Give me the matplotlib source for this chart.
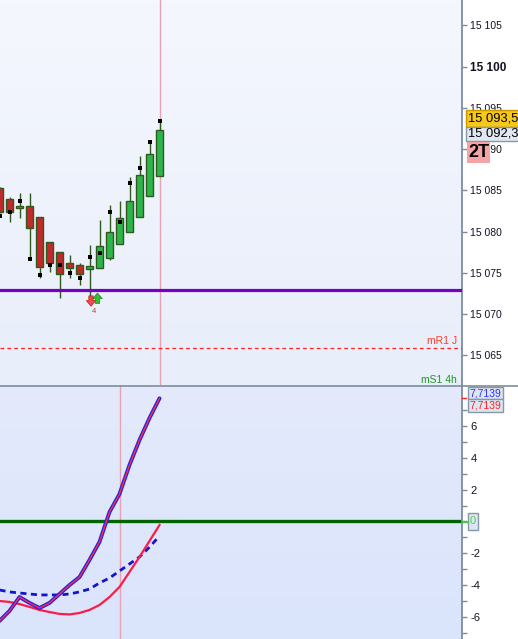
import matplotlib
matplotlib.use("Agg")
import matplotlib.pyplot as plt
from matplotlib.patches import Rectangle
from matplotlib.lines import Line2D
import numpy as np

plt.rcParams['font.family'] = ['Liberation Sans', 'DejaVu Sans']

# price bars, index 0 = left edge of the chart
opens  = [15085.30, 15083.97, 15082.99, 15083.11, 15081.78, 15078.74, 15077.52, 15076.18, 15075.94,
          15075.45, 15075.58, 15076.79, 15078.49, 15079.95, 15081.78, 15084.33, 15086.76]
closes = [15082.38, 15082.38, 15082.99, 15080.44, 15075.70, 15076.18, 15074.85, 15075.58, 15074.85,
          15075.82, 15078.25, 15079.95, 15081.66, 15083.72, 15086.88, 15089.44, 15092.30]
highs  = [15085.40, 15084.21, 15084.69, 15084.69, 15081.78, 15078.74, 15077.52, 15077.16, 15076.18,
          15078.37, 15081.41, 15083.24, 15083.72, 15086.64, 15089.19, 15090.90, 15093.50]
lows   = [15082.20, 15081.17, 15081.66, 15076.79, 15074.36, 15075.09, 15071.93, 15074.36, 15073.51,
          15071.93, 15075.58, 15076.55, 15078.49, 15079.95, 15081.78, 15084.33, 15086.76]
dots   = [15081.90, 15082.40, 15083.72, 15076.67, 15074.73, 15075.94, 15075.94, 15074.97, 15074.36,
          15076.91, 15077.40, 15082.38, 15081.17, 15085.91, 15087.73, 15090.90, 15093.45]

purple_level = 15072.91
mr1_level = 15065.88
price_ticks = [15065, 15070, 15075, 15080, 15085, 15090, 15095, 15100, 15105]
price_labels = ["15 065", "15 070", "15 075", "15 080", "15 085", "15 090", "15 095", "15 100", "15 105"]

# oscillator
osc_main = [-6.23, -5.60, -4.73, -5.10, -5.42, -5.10, -4.54, -3.98, -3.48,
            -2.41, -1.28, 0.59, 1.72, 3.54, 5.10, 6.48, 7.7139]
osc_red = [-4.98, -5.04, -5.17, -5.35, -5.54, -5.67, -5.79, -5.82, -5.73,
           -5.54, -5.23, -4.73, -4.10, -3.16, -2.22, -1.22, -0.22]
osc_dash = [-4.29, -4.41, -4.48, -4.54, -4.60, -4.60, -4.60, -4.54, -4.41,
            -4.23, -3.85, -3.54, -3.10, -2.66, -2.22, -1.60, -0.91]
osc_ticks = [-6, -4, -2, 0, 2, 4, 6]
osc_labels = ["-6", "-4", "-2", "", "2", "4", "6"]

W, H = 518, 639
fig = plt.figure(figsize=(W / 100, H / 100), dpi=100)
fig.patch.set_facecolor("white")

ax = fig.add_axes([0, 254 / H, 462 / W, 385 / H])
ax2 = fig.add_axes([0, 0, 462 / W, 254 / H])

axis_grey = "#7d8d9d"
tick_col = "#111122"


def gradient(a, top, bottom):
    c1 = np.array(matplotlib.colors.to_rgb(top))
    c2 = np.array(matplotlib.colors.to_rgb(bottom))
    t = np.linspace(0, 1, 100)[:, None]
    img = (c1 * (1 - t) + c2 * t)[:, None, :]
    a.imshow(img, extent=[0, 1, 0, 1], transform=a.transAxes, aspect="auto", zorder=0)


gradient(ax, "#f5f7fe", "#e8eefa")
gradient(ax2, "#e4eafc", "#dae4fb")

# ---- price panel ----
x = np.arange(len(opens))
ax.axvline(16, color="#e8a2b2", lw=1, zorder=1)
wick = "#2f5a1c"
ax.vlines(x, lows, highs, color=wick, lw=1, zorder=2)
for i in range(len(opens)):
    o, c = opens[i], closes[i]
    up = c >= o
    if abs(c - o) < 0.1:
        bottom, h = o - 0.08, 0.16
    else:
        bottom, h = min(o, c), abs(c - o)
    ax.bar(i, h, bottom=bottom, width=0.66,
           color="#2cb54a" if up else "#c3282b", edgecolor=wick, lw=1, zorder=3)
ax.plot(x, dots, "s", color="black", ms=3, mew=0, zorder=4)

ax.axhline(purple_level, color="#7800c4", lw=2.3, zorder=3)
ax.axhline(mr1_level, color="#ff2020", lw=0.9, ls=(0, (3, 2.5)), zorder=3)

# signal arrows under the low
arrow_style = "simple,head_width=0.75,head_length=0.45,tail_width=0.35"
ax.annotate("", xy=(9.15, 15070.95), xytext=(9.15, 15072.2),
            arrowprops=dict(arrowstyle=arrow_style, fc="#f04848", ec="#c02020", lw=0.5,
                            mutation_scale=9, shrinkA=0, shrinkB=0), zorder=5)
ax.annotate("", xy=(9.8, 15072.55), xytext=(9.8, 15071.3),
            arrowprops=dict(arrowstyle=arrow_style, fc="#34c034", ec="#208020", lw=0.5,
                            mutation_scale=9, shrinkA=0, shrinkB=0), zorder=5)
ax.text(9.45, 15070.3, "4", fontsize=5.5, color="#a05020", ha="center", va="center", zorder=5)

ax.set_xlim(0.05, 46.25)
ax.set_ylim(15061.40, 15108.07)
ax.yaxis.tick_right()
ax.set_yticks(price_ticks)
ax.set_yticklabels(price_labels)
ax.tick_params(axis="y", length=3.5, width=1, color=axis_grey, pad=2.5, labelsize=7.5, labelcolor=tick_col)
for lab in ax.get_yticklabels():
    if lab.get_text() == "15 100":
        lab.set_fontweight("bold")
        lab.set_fontsize(8.5)
ax.set_xticks([])
for s in ["left", "top", "bottom"]:
    ax.spines[s].set_visible(False)
ax.spines["right"].set_color(axis_grey)
ax.spines["right"].set_linewidth(1.3)

# ---- oscillator panel ----
ax2.axvline(12, color="#e8a2b2", lw=1, zorder=1)
ax2.axhline(0, color="#006400", lw=2.4, zorder=2)
ax2.plot(x, osc_dash, color="#1414d0", lw=2.0, ls=(0, (2.2, 1.6)), zorder=3)
ax2.plot(x, osc_red, color="#ff1a4a", lw=1.6, zorder=3)
ax2.plot(x, osc_main, color="#2424e0", lw=2.8, zorder=4, solid_capstyle="round")
ax2.plot(x, osc_main, color="#ff2a4a", lw=1.0, zorder=5, solid_capstyle="round")

ax2.set_xlim(0.05, 46.25)
ax2.set_ylim(-7.36, 8.55)
ax2.yaxis.tick_right()
ax2.set_yticks(osc_ticks)
ax2.set_yticklabels(osc_labels)
ax2.set_yticks([-7, -5, -3, -1, 1, 3, 5, 7], minor=True)
ax2.tick_params(axis="y", which="both", length=3.5, width=1, color=axis_grey, pad=2.5,
                labelsize=8, labelcolor=tick_col)
ax2.set_xticks([])
for s in ["left", "top", "bottom"]:
    ax2.spines[s].set_visible(False)
ax2.spines["right"].set_color(axis_grey)
ax2.spines["right"].set_linewidth(1.3)


# ---- overlays in pixel coordinates ----
def fx(px):
    return px / W


def fy(py):
    return 1 - py / H


def box(x0, y0, x1, y1, fc, ec=None):
    fig.add_artist(Rectangle((fx(x0), fy(y1)), (x1 - x0) / W, (y1 - y0) / H, transform=fig.transFigure,
                             fc=fc, ec=ec if ec else "none", lw=1, zorder=5))


fig.add_artist(Line2D([0, 1], [fy(385.5), fy(385.5)], color=axis_grey, lw=1.2, zorder=6))

box(466, 110, 519, 127, "#f6c81a", "#c89a00")
fig.text(fx(468), fy(118.5), "15 093,5", fontsize=9.3, color="black", va="center", ha="left", zorder=7)
box(466, 127, 519, 141, "#e0e7f2", "#8898a8")
fig.text(fx(468), fy(134), "15 092,3", fontsize=9.3, color="black", va="center", ha="left", zorder=7)
box(467, 142, 490, 163, "#f4a4a4")
fig.text(fx(478.5), fy(152.5), "2T", fontsize=13, fontweight="bold", color="black",
         va="center", ha="center", zorder=7)

fig.text(fx(457), fy(341), "mR1 J", fontsize=7.5, color="#ff3a2a", va="center", ha="right", zorder=7)
fig.text(fx(457), fy(380), "mS1 4h", fontsize=7.5, color="#1e9a1e", va="center", ha="right", zorder=7)

box(467.5, 387, 502.5, 398.5, "#dde5f1", "#8898a8")
fig.text(fx(469), fy(393), "7,7139", fontsize=7.5, color="#3030ff", va="center", ha="left", zorder=7)
box(467.5, 398.5, 502.5, 412, "#dde5f1", "#8898a8")
fig.text(fx(469), fy(405.5), "7,7139", fontsize=7.5, color="#ff2020", va="center", ha="left", zorder=7)
fig.add_artist(Line2D([fx(462), fx(466)], [fy(398), fy(398)], color="#ff2020", lw=1, zorder=6))

fig.add_artist(Line2D([fx(462), fx(467.5)], [fy(521.5), fy(521.5)], color="#50c050", lw=1, zorder=6))
box(467.5, 513, 477.5, 529.5, "#dde5f1", "#8898a8")
fig.text(fx(472.5), fy(521.5), "0", fontsize=8, color="#50d050", va="center", ha="center", zorder=7)

fig.savefig("out.png", dpi=100, facecolor="white")
